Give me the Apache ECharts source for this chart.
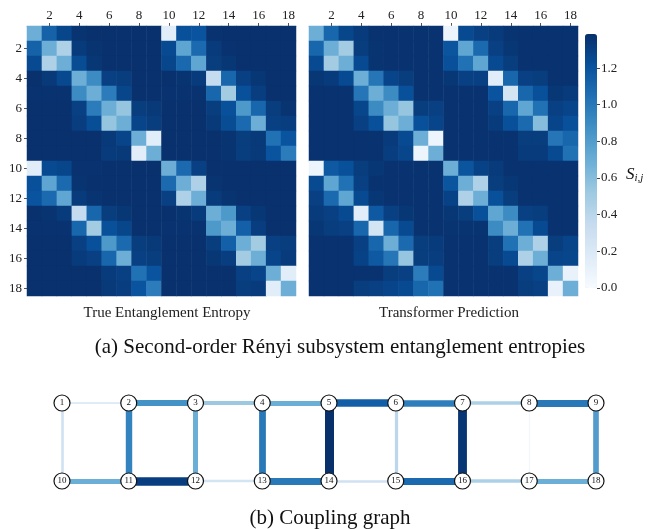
<!DOCTYPE html>
<html><head><meta charset="utf-8">
<script src="https://cdn.jsdelivr.net/npm/echarts@6/dist/echarts.min.js"></script>
<style>html,body{margin:0;padding:0;background:#fff}#c{width:651px;height:529px}</style>
</head><body><div id="c"></div>
<script>
const siteLabels = ['1','2','3','4','5','6','7','8','9','10','11','12','13','14','15','16','17','18'];
const colorbarTicks = [0, 0.2, 0.4, 0.6, 0.8, 1.0, 1.2];
const entropyMax = 1.386;

const trueEntropy = [
[0.69,1.12,1.27,1.36,1.38,1.38,1.38,1.38,1.38,0.15,1.22,1.20,1.37,1.38,1.38,1.38,1.38,1.38],
[1.12,0.69,0.45,1.33,1.36,1.38,1.38,1.38,1.38,1.25,0.75,1.08,1.33,1.37,1.38,1.38,1.38,1.38],
[1.25,0.45,0.69,1.24,1.35,1.38,1.38,1.38,1.38,1.27,1.09,0.74,1.32,1.35,1.38,1.38,1.38,1.38],
[1.38,1.34,1.26,0.69,0.90,1.30,1.32,1.38,1.38,1.38,1.36,1.33,0.35,1.10,1.30,1.35,1.38,1.38],
[1.37,1.37,1.37,0.90,0.69,0.98,1.27,1.38,1.38,1.37,1.37,1.37,1.10,0.50,1.22,1.31,1.38,1.38],
[1.38,1.38,1.38,1.30,0.98,0.69,0.55,1.32,1.34,1.38,1.38,1.38,1.32,1.22,0.82,1.10,1.32,1.36],
[1.38,1.38,1.38,1.31,1.23,0.55,0.69,1.28,1.32,1.38,1.38,1.38,1.34,1.24,1.08,0.69,1.30,1.31],
[1.38,1.38,1.38,1.38,1.38,1.34,1.28,0.69,0.15,1.38,1.38,1.38,1.38,1.36,1.32,1.34,1.04,1.20],
[1.38,1.38,1.38,1.38,1.38,1.33,1.34,0.15,0.69,1.38,1.38,1.38,1.38,1.36,1.32,1.34,1.20,0.98],
[0.15,1.25,1.27,1.37,1.37,1.38,1.38,1.38,1.38,0.69,1.08,1.30,1.38,1.38,1.38,1.38,1.38,1.38],
[1.22,0.75,1.08,1.36,1.38,1.38,1.38,1.38,1.38,1.08,0.69,0.45,1.36,1.38,1.38,1.38,1.38,1.38],
[1.20,1.08,0.74,1.33,1.36,1.38,1.38,1.38,1.38,1.30,0.45,0.69,1.33,1.36,1.38,1.38,1.38,1.38],
[1.38,1.36,1.33,0.35,1.10,1.32,1.35,1.38,1.38,1.38,1.36,1.33,0.69,0.82,1.30,1.35,1.38,1.38],
[1.37,1.37,1.37,1.10,0.50,1.22,1.27,1.38,1.38,1.37,1.37,1.37,0.82,0.69,1.13,1.31,1.38,1.38],
[1.38,1.38,1.38,1.30,1.22,0.82,1.08,1.32,1.34,1.38,1.38,1.38,1.32,1.13,0.69,0.50,1.30,1.32],
[1.38,1.38,1.38,1.33,1.30,1.10,0.69,1.30,1.32,1.38,1.38,1.38,1.35,1.31,0.50,0.69,1.28,1.33],
[1.38,1.38,1.38,1.38,1.38,1.33,1.30,1.04,1.20,1.38,1.38,1.38,1.38,1.38,1.30,1.28,0.69,0.15],
[1.38,1.38,1.38,1.38,1.38,1.34,1.31,1.20,0.98,1.38,1.38,1.38,1.38,1.38,1.32,1.33,0.15,0.69]
];

const predEntropy = [
[0.69,1.10,1.27,1.33,1.37,1.37,1.37,1.37,1.37,0.07,1.25,1.30,1.33,1.36,1.37,1.37,1.37,1.37],
[1.10,0.69,0.50,1.32,1.36,1.37,1.37,1.37,1.37,1.19,0.74,1.08,1.30,1.35,1.37,1.37,1.37,1.37],
[1.25,0.50,0.69,1.25,1.36,1.37,1.37,1.37,1.37,1.22,1.04,0.74,1.25,1.32,1.37,1.37,1.37,1.37],
[1.35,1.33,1.25,0.69,1.02,1.28,1.32,1.37,1.37,1.35,1.30,1.30,0.15,1.10,1.30,1.32,1.37,1.37],
[1.37,1.37,1.37,1.02,0.69,0.90,1.22,1.37,1.37,1.37,1.37,1.37,1.20,0.25,1.10,1.22,1.35,1.33],
[1.37,1.37,1.37,1.27,0.90,0.69,0.55,1.32,1.30,1.37,1.37,1.37,1.30,1.10,0.74,1.04,1.30,1.28],
[1.37,1.37,1.37,1.30,1.22,0.55,0.69,1.22,1.28,1.37,1.37,1.37,1.33,1.22,1.08,0.60,1.28,1.22],
[1.37,1.37,1.37,1.37,1.37,1.33,1.25,0.69,0.07,1.37,1.37,1.37,1.37,1.37,1.32,1.32,1.02,1.10],
[1.37,1.37,1.37,1.37,1.37,1.31,1.27,0.07,0.69,1.37,1.37,1.37,1.37,1.37,1.33,1.33,1.25,1.04],
[0.07,1.17,1.22,1.32,1.35,1.37,1.37,1.37,1.37,0.69,1.19,1.29,1.33,1.37,1.37,1.37,1.37,1.37],
[1.25,0.74,1.04,1.30,1.37,1.37,1.37,1.37,1.37,1.19,0.69,0.45,1.32,1.35,1.37,1.37,1.37,1.37],
[1.30,1.08,0.74,1.25,1.35,1.37,1.37,1.37,1.37,1.29,0.45,0.69,1.22,1.32,1.37,1.37,1.37,1.37],
[1.33,1.30,1.25,0.15,1.17,1.30,1.35,1.37,1.37,1.35,1.32,1.22,0.74,0.90,1.30,1.32,1.37,1.37],
[1.35,1.32,1.30,1.10,0.25,1.10,1.25,1.37,1.37,1.36,1.36,1.36,0.90,0.69,1.04,1.25,1.37,1.37],
[1.37,1.37,1.37,1.30,1.10,0.69,1.08,1.32,1.33,1.37,1.37,1.37,1.32,1.04,0.69,0.45,1.32,1.28],
[1.37,1.37,1.37,1.29,1.17,1.02,0.55,1.32,1.31,1.37,1.37,1.37,1.32,1.25,0.45,0.69,1.28,1.27],
[1.37,1.37,1.37,1.37,1.37,1.32,1.30,0.98,1.25,1.37,1.37,1.37,1.37,1.37,1.30,1.27,0.69,0.10],
[1.37,1.37,1.37,1.32,1.30,1.28,1.25,1.10,1.04,1.37,1.37,1.37,1.37,1.37,1.32,1.30,0.10,0.69]
];

// coupling graph: node grid column (1..9) and row (1 = top, 0 = bottom)
const nodeCol = [1,2,3,4,5,6,7,8,9, 1,2,3,4,5,6,7,8,9];
const nodeRow = [1,1,1,1,1,1,1,1,1, 0,0,0,0,0,0,0,0,0];
const edgeSource = [1,2,3,4,5,6,7,8, 1,2,3,4,5,6,7,8,9, 10,11,12,13,14,15,16,17];
const edgeTarget = [2,3,4,5,6,7,8,9, 10,11,12,13,14,15,16,17,18, 11,12,13,14,15,16,17,18];
const edgeWeight = [0.12,0.62,0.38,0.50,0.82,0.70,0.33,0.72, 0.20,0.68,0.50,0.72,1.00,0.28,0.98,0.03,0.58, 0.50,0.95,0.18,0.72,0.20,0.78,0.33,0.50];

const blues = ['#f7fbff','#deebf7','#c6dbef','#9ecae1','#6baed6','#4292c6','#2171b5','#08519c','#08306b'];
function bluesAt(t){
  t = Math.max(0, Math.min(1, t));
  const p = t*(blues.length-1), i = Math.min(blues.length-2, Math.floor(p)), f = p - i;
  const a = parseInt(blues[i].slice(1),16), b = parseInt(blues[i+1].slice(1),16);
  const ch = s => Math.round(((a>>s)&255)*(1-f) + ((b>>s)&255)*f);
  return 'rgb(' + ch(16) + ',' + ch(8) + ',' + ch(0) + ')';
}

function toCells(m){
  const out = [];
  m.forEach((row, i) => row.forEach((v, j) => out.push([j, i, v])));
  return out;
}

const serif = 'Liberation Serif';
const everyOther = (idx) => idx % 2 === 1;

function heatX(gi){
  return {
    type:'category', gridIndex:gi, data:siteLabels, position:'top',
    axisLine:{show:true, lineStyle:{color:'#b4bccb', width:1}},
    axisTick:{show:true, interval:everyOther, alignWithLabel:true, length:3, lineStyle:{color:'#555'}},
    axisLabel:{interval:everyOther, margin:4, fontFamily:serif, fontSize:13, color:'#222'},
    splitLine:{show:false}
  };
}
function heatY(gi, showLabels){
  return {
    type:'category', gridIndex:gi, data:siteLabels, inverse:true,
    axisLine:{show:false},
    axisTick:{show:showLabels, interval:everyOther, alignWithLabel:true, length:3, lineStyle:{color:'#555'}},
    axisLabel:{show:showLabels, interval:everyOther, margin:5, fontFamily:serif, fontSize:13, color:'#222'},
    splitLine:{show:false}
  };
}

const nodes = siteLabels.map((s, k) => ({name:s, value:[nodeCol[k], nodeRow[k]]}));
const links = edgeSource.map((s, k) => ({
  source: s-1, target: edgeTarget[k]-1,
  lineStyle:{color: bluesAt(edgeWeight[k]), width: 1 + 8*edgeWeight[k], opacity:1, curveness:0}
}));

const chart = echarts.init(document.getElementById('c'), null, {renderer:'canvas'});
chart.setOption({
  backgroundColor:'#fff',
  animation:false,
  grid:[
    {left:27, top:26, width:269, height:270},
    {left:309, top:26, width:269, height:270},
    {left:585, top:34, width:12, height:254},
    {left:62, top:403, width:534, height:78}
  ],
  xAxis:[
    heatX(0), heatX(1),
    {type:'value', gridIndex:2, show:false, min:0, max:1},
    {type:'value', gridIndex:3, show:false, min:1, max:9}
  ],
  yAxis:[
    heatY(0, true), heatY(1, false),
    {type:'value', gridIndex:2, position:'right', min:0, max:entropyMax, interval:0.2,
     axisLine:{show:false, onZero:false}, splitLine:{show:false},
     axisTick:{show:true, inside:false, length:3, lineStyle:{color:'#444', width:1}},
     axisLabel:{show:true, margin:4, showMaxLabel:false, fontFamily:serif, fontSize:13, color:'#222',
       formatter:(v)=>v.toFixed(1)}},
    {type:'value', gridIndex:3, show:false, min:0, max:1}
  ],
  visualMap:{
    type:'continuous', min:0, max:entropyMax, seriesIndex:[0,1],
    orient:'vertical', left:585, top:34, itemWidth:12, itemHeight:254,
    padding:0, text:null, showLabel:false, calculable:false, hoverLink:false,
    inRange:{color:blues}, z:1
  },
  title:[
    {text:'True Entanglement Entropy', left:162, top:301, textAlign:'center',
     textStyle:{fontFamily:serif, fontSize:15, fontWeight:'normal', color:'#222'}},
    {text:'Transformer Prediction', left:444, top:301, textAlign:'center',
     textStyle:{fontFamily:serif, fontSize:15, fontWeight:'normal', color:'#222'}},
    {text:'(a) Second-order Rényi subsystem entanglement entropies', left:335, top:332, textAlign:'center',
     textStyle:{fontFamily:serif, fontSize:21, fontWeight:'normal', color:'#111'}},
    {text:'(b) Coupling graph', left:325, top:503, textAlign:'center',
     textStyle:{fontFamily:serif, fontSize:21, fontWeight:'normal', color:'#111'}}
  ],
  graphic:[
    {type:'text', left:626, top:166, style:{
      text:'{s|S}{sub|i,j}', rich:{
        s:{fontFamily:serif, fontStyle:'italic', fontSize:17, fill:'#111'},
        sub:{fontFamily:serif, fontStyle:'italic', fontSize:11, fill:'#111', padding:[8,0,0,0]}
      }}}
  ],
  series:[
    {type:'heatmap', xAxisIndex:0, yAxisIndex:0, data:toCells(trueEntropy), itemStyle:{borderWidth:0}, emphasis:{disabled:true}},
    {type:'heatmap', xAxisIndex:1, yAxisIndex:1, data:toCells(predEntropy), itemStyle:{borderWidth:0}, emphasis:{disabled:true}},
    {type:'scatter', xAxisIndex:2, yAxisIndex:2, data:[], z:5},
    {type:'graph', coordinateSystem:'cartesian2d', xAxisIndex:3, yAxisIndex:3,
     data:nodes, links:links, symbol:'circle', symbolSize:16,
     itemStyle:{color:'#fff', borderColor:'#111', borderWidth:1.2},
     label:{show:true, position:'inside', fontFamily:serif, fontSize:9, color:'#111'},
     lineStyle:{opacity:1},
     emphasis:{disabled:true}, z:3}
  ]
});
</script></body></html>
